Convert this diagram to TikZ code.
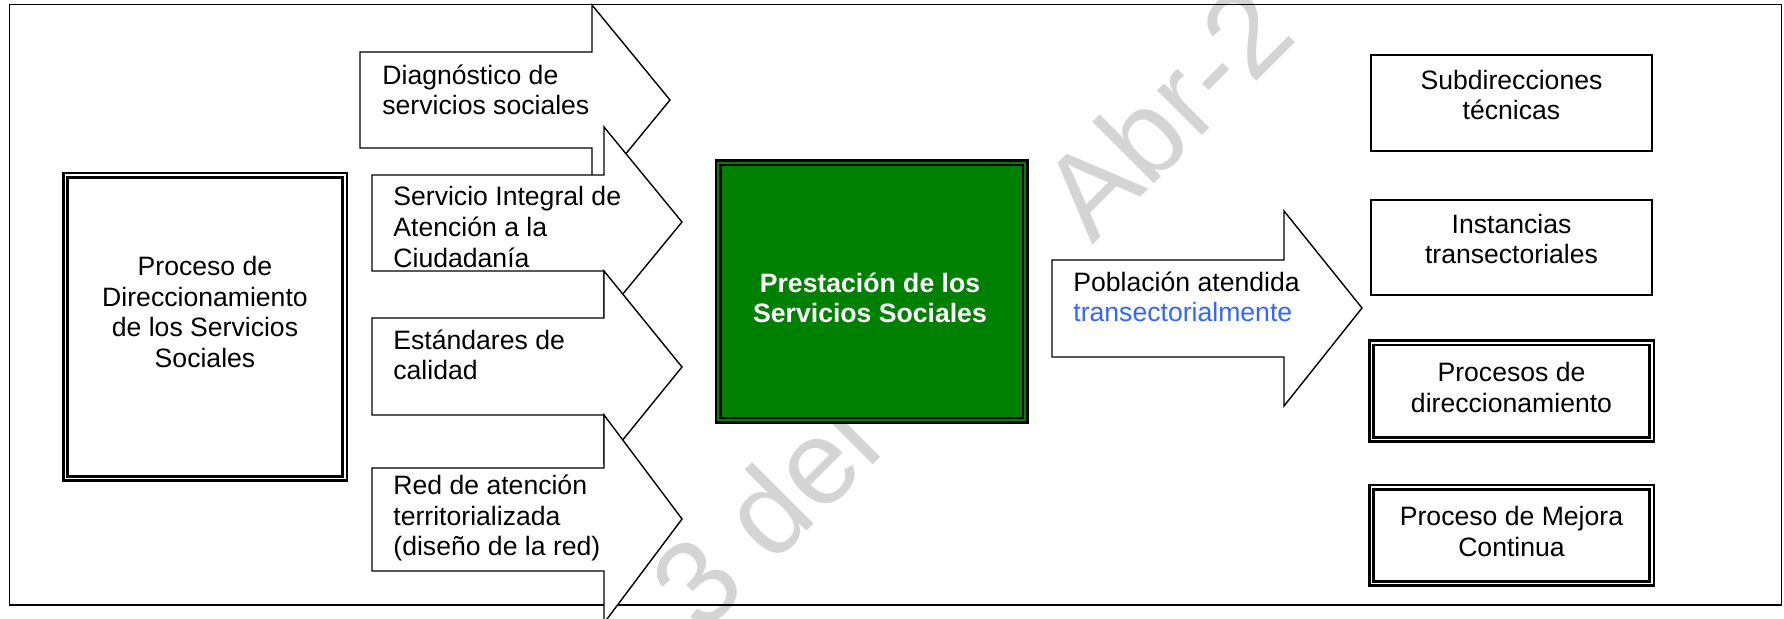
\documentclass[tikz,border=0pt]{standalone}
\usepackage{fontspec}
\setmainfont{Liberation Sans}
\definecolor{boxgreen}{RGB}{0,128,0}
\definecolor{txtblue}{RGB}{51,102,255}
\definecolor{wmgray}{RGB}{212,212,212}
\begin{document}
\begin{tikzpicture}[x=0.5pt,y=-0.5pt,
  txt/.style={inner sep=0pt,font=\fontsize{13.3}{15.3}\selectfont},
  lbl/.style={txt,align=left,anchor=west},
  ctr/.style={txt,align=center},
  blockarrow/.style={draw=black,fill=white,line width=0.7pt,line join=miter},
  plainbox/.style={draw=black,fill=white,line width=0.6pt,inner sep=0pt},
  dblbox/.style={draw=black,fill=white,double=white,line width=1.25pt,double distance=0.85pt,inner sep=0pt},
  greenbox/.style={draw=black,fill=boxgreen,double=boxgreen,line width=1.3pt,double distance=1pt,inner sep=0pt},
  frameline/.style={draw=black,line width=0.9pt},
  wm/.style={text=wmgray,inner sep=0pt,font=\fontsize{60}{60}\selectfont,rotate=45,anchor=base west}
]
\path[use as bounding box] (0,0) rectangle (1784,619);
\clip (0,0) rectangle (1784,619);

% watermark
\node[wm] (wm1) at (702,636) {3 del};
\node[wm] (wm2) at (1092,246) {Abr-2};

% outer frame
\draw[frameline] (9.5,4.5) rectangle (1781.5,605);

% left box
\node[dblbox,minimum width=139.65pt,minimum height=151.65pt] (lbox) at (205,327) {};
\node[ctr] (ltext) at (205,312) {Proceso de\\Direccionamiento\\de los Servicios\\Sociales};

% block arrows
\draw[blockarrow] (360,52) -- (592,52) -- (592,5) -- (670,100) -- (592,195) -- (592,148) -- (360,148) -- cycle;
\node[lbl] (a1text) at (382,90) {Diagnóstico de\\servicios sociales};
\draw[blockarrow] (372,175) -- (604,175) -- (604,127) -- (682,222) -- (604,317) -- (604,271) -- (372,271) -- cycle;
\node[lbl] (a2text) at (393,227) {Servicio Integral de\\Atención a la\\Ciudadanía};
\draw[blockarrow] (372,318) -- (604,318) -- (604,271) -- (682,367) -- (604,463) -- (604,415) -- (372,415) -- cycle;
\node[lbl] (a3text) at (393,355) {Estándares de\\calidad};
\draw[blockarrow] (372,468) -- (604,468) -- (604,415) -- (682,519) -- (604,623) -- (604,571) -- (372,571) -- cycle;
\node[lbl] (a4text) at (393,518) {Red de atención\\territorializada\\(diseño de la red)};

% green box
\node[greenbox,minimum width=153.4pt,minimum height=128.9pt] (gbox) at (871.7,291.5) {};
\node[ctr,text=white,font=\fontsize{13.3}{15.3}\selectfont\bfseries] (gtext) at (870,298) {Prestación de los\\Servicios Sociales};

% output arrow
\draw[blockarrow] (1052,260) -- (1284,260) -- (1284,211) -- (1362,308) -- (1284,406) -- (1284,357) -- (1052,357) -- cycle;
\node[lbl] (a5text) at (1073,297) {Población atendida\\\textcolor{txtblue}{transectorialmente}};

% right boxes
\node[plainbox,minimum width=140.5pt,minimum height=48pt] (r1) at (1511.5,103) {};
\node[ctr] (r1t) at (1511.5,95) {Subdirecciones\\técnicas};
\node[plainbox,minimum width=140.5pt,minimum height=47.5pt] (r2) at (1511.5,247.5) {};
\node[ctr] (r2t) at (1511.5,239) {Instancias\\transectoriales};
\node[dblbox,minimum width=140.15pt,minimum height=48.4pt] (r3) at (1511.5,391.25) {};
\node[ctr] (r3t) at (1511.5,387.5) {Procesos de\\direccionamiento};
\node[dblbox,minimum width=140.15pt,minimum height=48.15pt] (r4) at (1511.5,535.5) {};
\node[ctr] (r4t) at (1511.5,531.5) {Proceso de Mejora\\Continua};
\end{tikzpicture}
\end{document}
